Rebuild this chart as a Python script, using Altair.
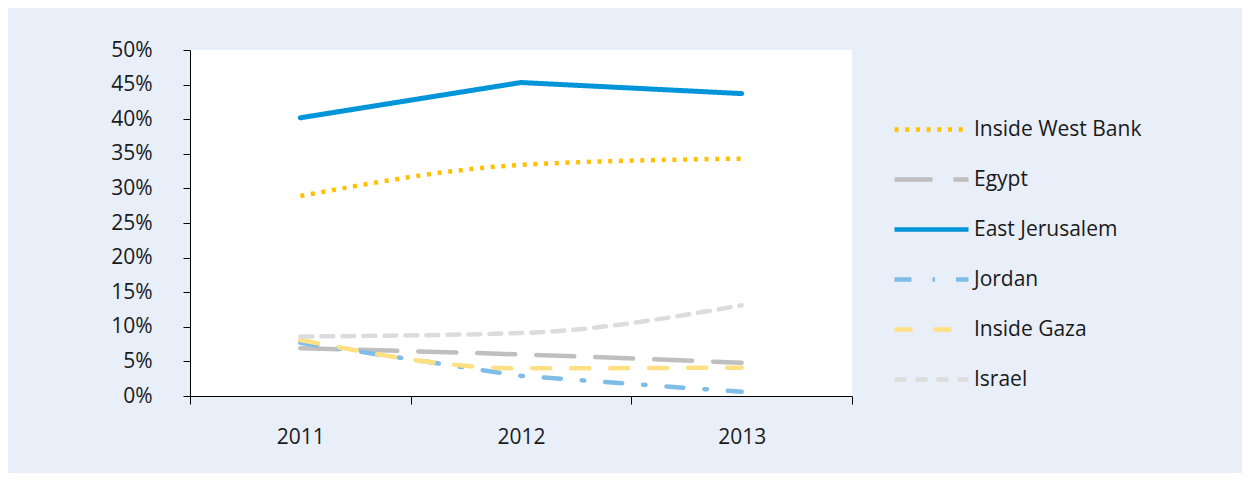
import altair as alt
import pandas as pd

years = ["2011", "2012", "2013"]
series = ["Inside West Bank", "Egypt", "East Jerusalem", "Jordan", "Inside Gaza", "Israel"]

west_bank = [0.289, 0.334, 0.343]
egypt = [0.069, 0.060, 0.048]
east_jerusalem = [0.402, 0.453, 0.437]
jordan = [0.077, 0.029, 0.006]
gaza = [0.081, 0.040, 0.041]
israel = [0.086, 0.091, 0.131]

values = [west_bank, egypt, east_jerusalem, jordan, gaza, israel]
colors = ["#FFC000", "#BFBFBF", "#0095D9", "#7FBCE8", "#FFE083", "#DCDCDC"]
dashes = [[4, 6.7], [38, 21], [1, 0], [17, 21, 2.5, 21], [18, 21], [12, 9]]
interp = ["monotone", "monotone", "linear", "linear", "monotone", "monotone"]
caps = ["butt", "round", "round", "round", "round", "round"]
widths = [4.5, 4.5, 5, 4.5, 4.5, 4.5]

rows = []
for s, vals in zip(series, values):
    for y, v in zip(years, vals):
        rows.append({"series": s, "year": y, "value": v})
df = pd.DataFrame(rows)

FONT = "Open Sans"

x_enc = alt.X(
    "year:O",
    scale=alt.Scale(type="band", paddingInner=0, paddingOuter=0),
    axis=alt.Axis(
        title=None, labelAngle=0, tickBand="extent", tickSize=8,
        labelPadding=22, domainColor="#000000", tickColor="#000000",
    ),
)
y_enc = alt.Y(
    "value:Q",
    scale=alt.Scale(domain=[0, 0.5], nice=False),
    axis=alt.Axis(
        title=None, format=".0%", values=[i * 0.05 for i in range(11)],
        grid=False, tickSize=7, labelPadding=31,
        domainColor="#000000", tickColor="#000000",
    ),
)
legend = alt.Legend(
    title=None,
    orient="none",
    legendX=702,
    legendY=40,
    symbolType="stroke",
    symbolSize=5476,
    symbolStrokeWidth=4.5,
    labelOffset=3,
    rowPadding=-0.4,
    labelFont=FONT,
    labelFontSize=21,
    labelColor="#1a1a1a",
    labelLimit=400,
)
color_enc = alt.Color("series:N", scale=alt.Scale(domain=series, range=colors), legend=legend)
dash_enc = alt.StrokeDash("series:N", scale=alt.Scale(domain=series, range=dashes), legend=legend)

layers = []
for s, ip, w, c in zip(series, interp, widths, caps):
    layers.append(
        alt.Chart(df)
        .transform_filter(alt.datum.series == s)
        .mark_line(interpolate=ip, strokeWidth=w, strokeCap=c)
        .encode(x=x_enc, y=y_enc, color=color_enc, strokeDash=dash_enc)
    )

chart = (
    alt.layer(*layers)
    .properties(
        width=662,
        height=346,
        background="#E9EFF9",
        padding={"left": 182, "top": 42, "right": 390, "bottom": 77},
        autosize=alt.AutoSizeParams(type="none"),
    )
    .configure_view(fill="white", stroke=None)
    .configure_axis(labelFont=FONT, labelFontSize=21, labelColor="#1a1a1a", domainWidth=1, tickWidth=1)
)

chart.save("out.html", embed_options={"renderer": "svg", "actions": False})
